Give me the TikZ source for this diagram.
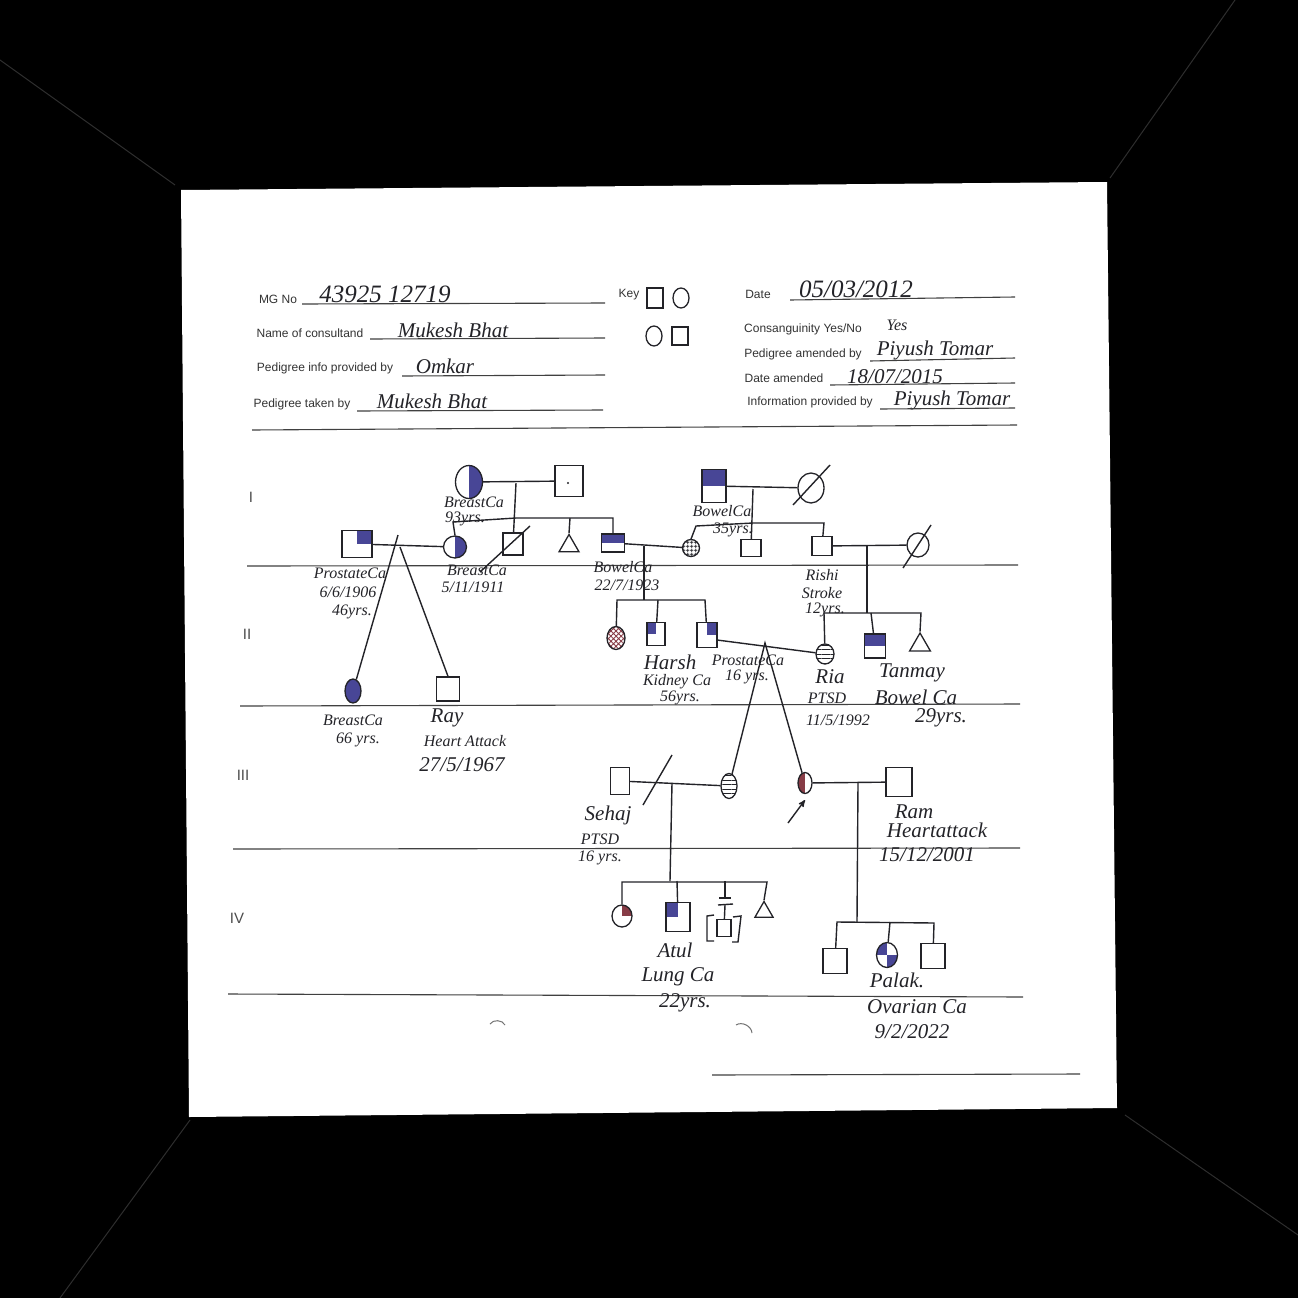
\documentclass[tikz,border=0pt]{standalone}
\usepackage{fontspec}
\newfontfamily\formfont{Liberation Sans}
\newfontfamily\handfont{Liberation Serif}
\usepackage{tikz}
\usetikzlibrary{
  arrows,
  shapes.geometric,
  patterns.meta
}
\definecolor{sick}{RGB}{72,70,150}
\definecolor{wine}{RGB}{135,60,70}
\definecolor{ink}{RGB}{35,35,40}

\begin{document}
\begin{tikzpicture}[
      x=1pt,y=-1pt,
      male/.style 2 args={
         rectangle,
         draw=ink,
         line width=1.3pt,
         inner sep=0pt,
         minimum width=#1,
         minimum height=#2
      },
      female/.style 2 args={
         ellipse,
         draw=ink,
         line width=1.3pt,
         inner sep=0pt,
         minimum width=#1,
         minimum height=#2
      },
      unknown/.style={
         regular polygon,
         regular polygon sides=3,
         draw=ink,
         line width=1.3pt,
         inner sep=0pt,
         minimum size=#1
      },
      tophalf/.style={path picture={\fill[sick] (path picture bounding box.west) rectangle (path picture bounding box.north east);}},
      righthalf/.style={path picture={\fill[sick] (path picture bounding box.north) rectangle (path picture bounding box.south east);}},
      lefthalf/.style={path picture={\fill[#1] (path picture bounding box.north) rectangle (path picture bounding box.south west);}},
      topright/.style={path picture={\fill[#1] (path picture bounding box.center) rectangle (path picture bounding box.north east);}},
      topleft/.style={path picture={\fill[sick] (path picture bounding box.center) rectangle (path picture bounding box.north west);}},
      crossfill/.style={path picture={
         \fill[sick] (path picture bounding box.center) rectangle (path picture bounding box.north west);
         \fill[sick] (path picture bounding box.center) rectangle (path picture bounding box.south east);}},
      hatchflat/.style={pattern={Lines[angle=0,distance=4.5pt,line width=1pt]},pattern color=ink},
      gridflat/.style={pattern={Hatch[angle=0,distance=4pt,line width=.8pt]},pattern color=ink},
      griddiag/.style={pattern={Hatch[angle=45,distance=3.6pt,line width=.9pt]},pattern color=wine},
      point/.style={coordinate},>=stealth',
      link/.style={draw=ink,line width=1.4pt},
      rule/.style={draw=black!75,line width=1.1pt},
      faint/.style={draw=black!82,line width=1pt},
      punch/.style={draw=black!55,line width=1pt},
      form/.style={font=\formfont\fontsize{12}{14}\selectfont,text=black!80,inner sep=0pt},
      hand/.style={font=\handfont\itshape\fontsize{16}{18}\selectfont,text=ink,inner sep=0pt},
      bighand/.style={font=\handfont\itshape\fontsize{21}{23}\selectfont,text=ink,inner sep=0pt},
      widehand/.style={font=\handfont\itshape\fontsize{25}{27}\selectfont,text=ink,inner sep=0pt},
      gen/.style={font=\formfont\fontsize{15}{17}\selectfont,text=black!70,inner sep=0pt},
    ]
    \useasboundingbox (0,0) rectangle (1298,1298);
    \fill[black] (0,0) rectangle (1298,1298);
    \fill[white] (181,190) -- (1107,182) -- (1117,1108) -- (189,1117) -- cycle;

    \node (c1) [point] at (0,60) {}; \node (c2) [point] at (175,185) {};
    \node (c3) [point] at (1235,0) {}; \node (c4) [point] at (1110,178) {};
    \node (c5) [point] at (60,1298) {}; \node (c6) [point] at (190,1120) {};
    \node (c7) [point] at (1298,1235) {}; \node (c8) [point] at (1125,1115) {};
    \draw[faint] (c1) -- (c2);
    \draw[faint] (c3) -- (c4);
    \draw[faint] (c5) -- (c6);
    \draw[faint] (c7) -- (c8);

    \node (f1) [form] at (278,299) {MG No};
    \node (f2) [form] at (310,333) {Name of consultand};
    \node (f3) [form] at (325,368) {Pedigree info provided by};
    \node (f4) [form] at (302,404) {Pedigree taken by};
    \node (f5) [form] at (629,295) {Key};
    \node (f6) [form] at (758,294) {Date};
    \node (f7) [form] at (803,329) {Consanguinity Yes/No};
    \node (f8) [form] at (803,354) {Pedigree amended by};
    \node (f9) [form] at (784,378) {Date amended};
    \node (f10) [form] at (810,402) {Information provided by};

    \node (h1) [widehand] at (385,294) {43925 12719};
    \node (h2) [bighand] at (453,330) {Mukesh Bhat};
    \node (h3) [bighand] at (445,366) {Omkar};
    \node (h4) [bighand] at (432,401) {Mukesh Bhat};
    \node (h5) [widehand] at (856,289) {05/03/2012};
    \node (h6) [hand] at (897,325) {Yes};
    \node (h7) [bighand] at (935,350) {Piyush Tomar};
    \node (h8) [bighand] at (895,377) {18/07/2015};
    \node (h9) [bighand] at (952,400) {Piyush Tomar};

    \node (k1) [male={16pt}{20pt}] at (655,298) {};
    \node (k2) [female={16pt}{20pt}] at (681,298) {};
    \node (k3) [female={16pt}{20pt}] at (654,336) {};
    \node (k4) [male={16pt}{18pt}] at (680,336) {};

    \node (r1) [point] at (302,304) {}; \node (r2) [point] at (605,303) {};
    \node (r3) [point] at (370,339) {}; \node (r4) [point] at (605,338) {};
    \node (r5) [point] at (402,376) {}; \node (r6) [point] at (605,375) {};
    \node (r7) [point] at (357,411) {}; \node (r8) [point] at (603,410) {};
    \node (r9) [point] at (252,430) {}; \node (r10) [point] at (1017,425) {};
    \node (r11) [point] at (790,300) {}; \node (r12) [point] at (1015,297) {};
    \node (r13) [point] at (870,361) {}; \node (r14) [point] at (1015,358) {};
    \node (r15) [point] at (830,385) {}; \node (r16) [point] at (1015,383) {};
    \node (r17) [point] at (880,409) {}; \node (r18) [point] at (1015,408) {};
    \node (r19) [point] at (247,566) {}; \node (r20) [point] at (1018,565) {};
    \node (r21) [point] at (240,706) {}; \node (r22) [point] at (1020,704) {};
    \node (r23) [point] at (233,849) {}; \node (r24) [point] at (1020,848) {};
    \node (r25) [point] at (228,994) {}; \node (r26) [point] at (1023,997) {};
    \node (r27) [point] at (712,1075) {}; \node (r28) [point] at (1080,1074) {};
    \draw[rule] (r1) -- (r2); \draw[rule] (r3) -- (r4);
    \draw[rule] (r5) -- (r6); \draw[rule] (r7) -- (r8);
    \draw[rule] (r9) -- (r10); \draw[rule] (r11) -- (r12);
    \draw[rule] (r13) -- (r14); \draw[rule] (r15) -- (r16);
    \draw[rule] (r17) -- (r18); \draw[rule] (r19) -- (r20);
    \draw[rule] (r21) -- (r22); \draw[rule] (r23) -- (r24);
    \draw[rule] (r25) -- (r26); \draw[rule] (r27) -- (r28);

    \node (g1) [gen] at (251,497) {I};
    \node (g2) [gen] at (247,634) {II};
    \node (g3) [gen] at (243,775) {III};
    \node (g4) [gen] at (237,918) {IV};

    \node (n11) [female={27pt}{33pt},righthalf] at (469,482) {};
    \node (n12) [male={28pt}{31pt}] at (569,481) {};
    \node (n12d) [circle,fill=ink,inner sep=.8pt] at (568,483) {};
    \node (n13) [male={24pt}{33pt},tophalf] at (714,486) {};
    \node (n14) [female={26pt}{30pt}] at (811,488) {};

    \node (n21) [male={30pt}{27pt},topright=sick] at (357,544) {};
    \node (n22) [female={23pt}{22pt},righthalf] at (455,547) {};
    \node (n23) [male={20pt}{22pt}] at (513,544) {};
    \node (n24) [unknown=23pt] at (569,546) {};
    \node (n25) [male={23pt}{18pt},tophalf] at (613,543) {};
    \node (n26) [female={17pt}{17pt},gridflat] at (691,548) {};
    \node (n27) [male={20pt}{17pt}] at (751,548) {};
    \node (n28) [male={20pt}{19pt}] at (822,546) {};
    \node (n29) [female={22pt}{24pt}] at (918,545) {};

    \node (n31) [female={16pt}{24pt},fill=sick] at (353,691) {};
    \node (n32) [male={23pt}{24pt}] at (448,689) {};
    \node (n33) [female={18pt}{23pt},griddiag] at (616,638) {};
    \node (n34) [male={18pt}{23pt},topleft] at (656,634) {};
    \node (n35) [male={20pt}{25pt},topright=sick] at (707,635) {};
    \node (n36) [female={18pt}{20pt},hatchflat] at (825,654) {};
    \node (n37) [male={21pt}{24pt},tophalf] at (875,646) {};
    \node (n38) [unknown=24pt] at (920,645) {};

    \node (n41) [male={19pt}{27pt}] at (620,781) {};
    \node (n42) [female={16pt}{25pt},hatchflat] at (729,786) {};
    \node (n43) [female={14pt}{21pt},lefthalf=wine] at (805,783) {};
    \node (n44) [male={26pt}{29pt}] at (899,782) {};

    \node (n51) [female={20pt}{22pt},topright=wine] at (622,916) {};
    \node (n52) [male={24pt}{29pt},topleft] at (678,917) {};
    \node (n53) [male={14pt}{17pt}] at (724,928) {};
    \node (n54) [unknown=21pt] at (764,912) {};
    \node (n55) [male={24pt}{25pt}] at (835,961) {};
    \node (n56) [female={21pt}{25pt},crossfill] at (887,955) {};
    \node (n57) [male={24pt}{25pt}] at (933,956) {};

    \node (p1) [point] at (516,483) {};
    \node (p2) [point] at (453,522) {};
    \node (p3) [point] at (516,518) {};
    \node (p4) [point] at (570,518) {};
    \node (p5) [point] at (613,518) {};
    \draw[link] (n11) -- (n12);
    \draw[link] (p1) -- (n23);
    \draw[link] (n22.north) -- (p2) -- (p3) -- (p5) -- (n25);
    \draw[link] (p4) -- (n24.north);

    \node (p6) [point] at (753,489) {};
    \node (p7) [point] at (696,526) {};
    \node (p8) [point] at (753,523) {};
    \node (p9) [point] at (824,523) {};
    \draw[link] (n13) -- (n14);
    \draw[link] (p6) -- (n27);
    \draw[link] (n26.north) -- (p7) -- (p8) -- (p9) -- (n28);

    \node (p10) [point] at (400,547) {};
    \node (p11) [point] at (398,535) {};
    \draw[link] (n21) -- (n22);
    \draw[link] (p11) -- (n31);
    \draw[link] (p10) -- (n32.north);

    \node (p12) [point] at (644,546) {};
    \node (p13) [point] at (644,600) {};
    \node (p14) [point] at (617,600) {};
    \node (p15) [point] at (658,600) {};
    \node (p16) [point] at (705,600) {};
    \draw[link] (n25) -- (n26);
    \draw[link] (p12) -- (p13);
    \draw[link] (n33) -- (p14) -- (p16) -- (n35);
    \draw[link] (p15) -- (n34);

    \node (p17) [point] at (867,546) {};
    \node (p18) [point] at (867,613) {};
    \node (p19) [point] at (824,613) {};
    \node (p20) [point] at (871,613) {};
    \node (p21) [point] at (921,613) {};
    \draw[link] (n28) -- (n29);
    \draw[link] (p17) -- (p18);
    \draw[link] (n36) -- (p19) -- (p21) -- (n38.north);
    \draw[link] (p20) -- (n37);

    \node (p22) [point] at (717,640) {};
    \node (p23) [point] at (765,643) {};
    \draw[link] (p22) -- (n36);
    \draw[link] (n42) -- (p23) -- (n43);

    \node (p24) [point] at (672,783) {};
    \node (p25) [point] at (670,881) {};
    \node (p26) [point] at (622,882) {};
    \node (p27) [point] at (677,881) {};
    \node (p28) [point] at (725,881) {};
    \node (p29) [point] at (767,882) {};
    \draw[link] (n41) -- (n42);
    \draw[link] (p24) -- (p25);
    \draw[link] (n51) -- (p26) -- (p29) -- (n54.north);
    \draw[link] (p27) -- (n52);

    \node (p30) [point] at (725,897) {};
    \node (p31) [point] at (725,905) {};
    \node (p32) [point] at (719,898) {};
    \node (p33) [point] at (731,898) {};
    \node (p34) [point] at (718,905) {};
    \node (p35) [point] at (733,904) {};
    \draw[link] (p28) -- (p30);
    \draw[link] (p32) -- (p33);
    \draw[link] (p34) -- (p35);
    \draw[link] (p31) -- (n53);

    \node (p36) [point] at (714,915) {};
    \node (p37) [point] at (707,916) {};
    \node (p38) [point] at (707,941) {};
    \node (p39) [point] at (714,941) {};
    \node (p40) [point] at (733,917) {};
    \node (p41) [point] at (741,916) {};
    \node (p42) [point] at (738,942) {};
    \node (p43) [point] at (732,942) {};
    \draw[link] (p36) -- (p37) -- (p38) -- (p39);
    \draw[link] (p40) -- (p41) -- (p42) -- (p43);

    \node (p44) [point] at (858,783) {};
    \node (p45) [point] at (857,922) {};
    \node (p46) [point] at (837,922) {};
    \node (p47) [point] at (890,922) {};
    \node (p48) [point] at (934,923) {};
    \draw[link] (n43) -- (n44);
    \draw[link] (p44) -- (p45);
    \draw[link] (n55) -- (p46) -- (p48) -- (n57);
    \draw[link] (p47) -- (n56);

    \node (s1) [point] at (530,526) {}; \node (s2) [point] at (480,572) {};
    \node (s3) [point] at (830,465) {}; \node (s4) [point] at (793,505) {};
    \node (s5) [point] at (931,525) {}; \node (s6) [point] at (903,568) {};
    \node (s7) [point] at (672,755) {}; \node (s8) [point] at (643,805) {};
    \draw[link] (s1) -- (s2);
    \draw[link] (s3) -- (s4);
    \draw[link] (s5) -- (s6);
    \draw[link] (s7) -- (s8);

    \node (a1) [point] at (788,823) {}; \node (a2) [point] at (805,800) {};
    \draw[link,->] (a1) -- (a2);

    \node (m1) [point] at (490,1024) {}; \node (m2) [point] at (505,1025) {};
    \node (m3) [point] at (736,1025) {}; \node (m4) [point] at (752,1033) {};
    \draw[punch] (m1) to[bend left=60] (m2);
    \draw[punch] (m3) to[bend left=60] (m4);

    \node (t1) [hand] at (474,502) {BreastCa};
    \node (t2) [hand] at (465,519) {93yrs.};
    \node (t3) [hand] at (350,573) {ProstateCa};
    \node (t4) [hand] at (348,592) {6/6/1906};
    \node (t5) [hand] at (352,612) {46yrs.};
    \node (t6) [hand] at (477,570) {BreastCa};
    \node (t7) [hand] at (473,587) {5/11/1911};
    \node (t8) [hand] at (623,567) {BowelCa};
    \node (t9) [hand] at (627,585) {22/7/1923};
    \node (t10) [hand] at (353,720) {BreastCa};
    \node (t11) [hand] at (358,740) {66 yrs.};
    \node (t12) [bighand] at (447,718) {Ray};
    \node (t13) [hand] at (465,741) {Heart Attack};
    \node (t14) [bighand] at (462,765) {27/5/1967};
    \node (t15) [hand] at (722,511) {BowelCa};
    \node (t16) [hand] at (733,530) {35yrs.};
    \node (t17) [hand] at (822,575) {Rishi};
    \node (t18) [hand] at (822,593) {Stroke};
    \node (t19) [hand] at (825,610) {12yrs.};
    \node (t20) [bighand] at (670,662) {Harsh};
    \node (t21) [hand] at (677,682) {Kidney Ca};
    \node (t22) [hand] at (680,698) {56yrs.};
    \node (t23) [hand] at (748,660) {ProstateCa};
    \node (t24) [hand] at (747,677) {16 yrs.};
    \node (t25) [bighand] at (830,677) {Ria};
    \node (t26) [hand] at (827,698) {PTSD};
    \node (t27) [hand] at (838,720) {11/5/1992};
    \node (t28) [bighand] at (912,673) {Tanmay};
    \node (t29) [bighand] at (916,697) {Bowel Ca};
    \node (t30) [bighand] at (941,718) {29yrs.};
    \node (t31) [bighand] at (608,815) {Sehaj};
    \node (t32) [hand] at (600,839) {PTSD};
    \node (t33) [hand] at (600,858) {16 yrs.};
    \node (t34) [bighand] at (914,812) {Ram};
    \node (t35) [bighand] at (937,830) {Heartattack};
    \node (t36) [bighand] at (927,855) {15/12/2001};
    \node (t37) [bighand] at (675,950) {Atul};
    \node (t38) [bighand] at (678,977) {Lung Ca};
    \node (t39) [bighand] at (685,1003) {22yrs.};
    \node (t40) [bighand] at (897,980) {Palak.};
    \node (t41) [bighand] at (917,1007) {Ovarian Ca};
    \node (t42) [bighand] at (912,1032) {9/2/2022};
\end{tikzpicture}
\end{document}
